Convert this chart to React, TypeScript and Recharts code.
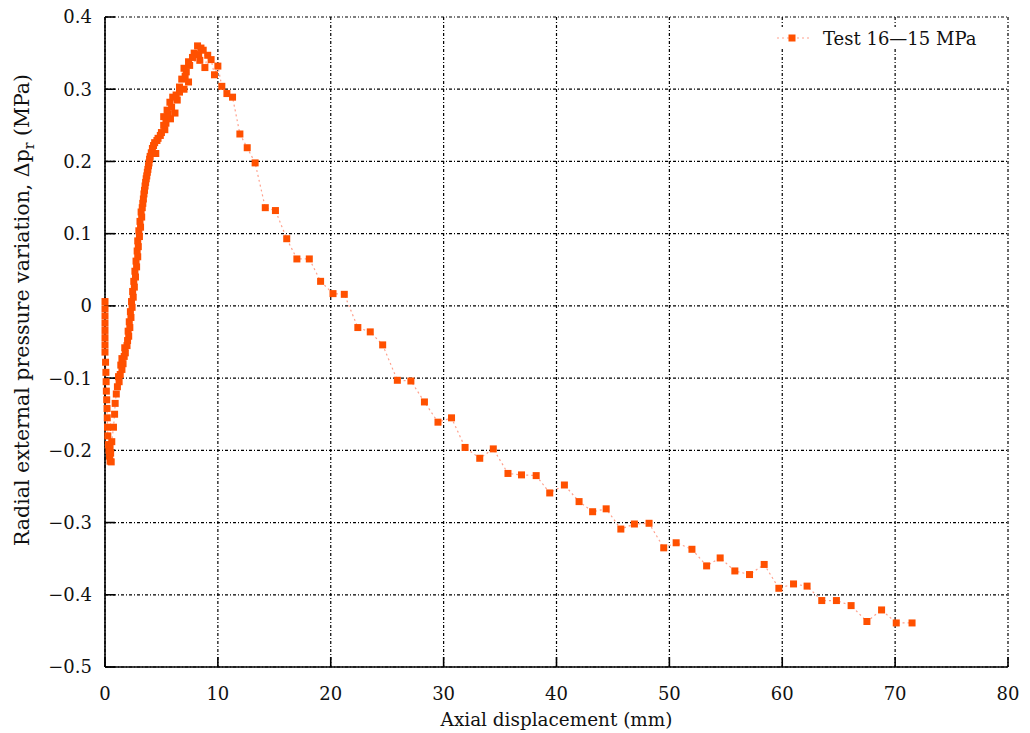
import React from "react";
import {
  CartesianGrid,
  Line,
  LineChart,
  XAxis,
  YAxis,
} from "recharts";

const displacement = [
  0, 0, 0, 0, 0, 0, 0, 0, 0.05, 0.08, 0.1, 0.12, 0.15, 0.18, 0.2, 0.22, 0.25,
  0.3, 0.35, 0.4, 0.45, 0.55, 0.5, 0.45, 0.6, 0.75, 0.85, 0.9, 1.0, 1.1, 1.25,
  1.2, 1.35, 1.5, 1.4, 1.6, 1.5, 1.7, 1.8, 1.75, 1.95, 2.0, 2.1, 2.05, 2.2,
  2.15, 2.3, 2.25, 2.4, 2.35, 2.5, 2.45, 2.6, 2.55, 2.7, 2.65, 2.8, 2.75, 2.9,
  2.85, 2.95, 2.9, 3.05, 3.0, 3.15, 3.1, 3.25, 3.2, 3.3, 3.35, 3.4, 3.45, 3.5,
  3.55, 3.6, 3.65, 3.7, 3.75, 3.8, 3.85, 3.9, 3.95, 4.0, 4.1, 4.5, 4.2, 4.3,
  4.4, 4.6, 4.7, 4.9, 5.0, 5.3, 5.2, 5.4, 5.8, 5.2, 5.6, 6.2, 5.5, 5.9, 5.75,
  6.4, 6.0, 6.3, 6.6, 7.0, 6.6, 7.4, 6.8, 7.1, 7.2, 7.0, 7.5, 7.4, 8.4, 7.75,
  7.9, 8.2, 8.5, 8.7, 8.3, 9.1, 8.85, 9.4, 9.7, 10.0, 10.35, 10.8, 11.3, 11.95,
  12.6, 13.3, 14.2, 15.1, 16.1, 17.0, 18.1, 19.1, 20.2, 21.2, 22.4, 23.5, 24.6,
  25.9, 27.1, 28.3, 29.5, 30.7, 31.9, 33.2, 34.4, 35.7, 36.9, 38.2, 39.4, 40.7,
  42.0, 43.2, 44.4, 45.7, 46.9, 48.2, 49.5, 50.6, 52.0, 53.3, 54.5, 55.8, 57.1,
  58.4, 59.7, 61.0, 62.2, 63.5, 64.8, 66.1, 67.5, 68.8, 70.1, 71.5,
];

const pressureVariation = [
  0.006, -0.004, -0.014, -0.024, -0.034, -0.044, -0.054, -0.064, -0.078,
  -0.092, -0.105, -0.118, -0.13, -0.142, -0.155, -0.168, -0.18, -0.192, -0.2,
  -0.208, -0.215, -0.216, -0.204, -0.195, -0.188, -0.168, -0.15, -0.135,
  -0.122, -0.112, -0.105, -0.098, -0.095, -0.088, -0.082, -0.08, -0.073,
  -0.07, -0.065, -0.058, -0.055, -0.048, -0.042, -0.035, -0.03, -0.022,
  -0.016, -0.008, -0.002, 0.006, 0.012, 0.02, 0.026, 0.034, 0.04, 0.048,
  0.054, 0.062, 0.068, 0.076, 0.082, 0.09, 0.096, 0.104, 0.109, 0.117, 0.123,
  0.13, 0.136, 0.142, 0.148, 0.155, 0.16, 0.166, 0.171, 0.176, 0.18, 0.185,
  0.189, 0.194, 0.198, 0.203, 0.207, 0.212, 0.211, 0.218, 0.222, 0.226,
  0.229, 0.232, 0.236, 0.24, 0.244, 0.25, 0.253, 0.259, 0.262, 0.265, 0.267,
  0.271, 0.275, 0.282, 0.285, 0.289, 0.292, 0.296, 0.3, 0.303, 0.31, 0.314,
  0.318, 0.324, 0.329, 0.333, 0.338, 0.34, 0.344, 0.35, 0.36, 0.357, 0.354,
  0.348, 0.347, 0.33, 0.341, 0.32, 0.332, 0.304, 0.294, 0.289, 0.238, 0.219,
  0.198, 0.136, 0.132, 0.093, 0.065, 0.065, 0.034, 0.017, 0.016, -0.03,
  -0.036, -0.054, -0.103, -0.104, -0.133, -0.161, -0.155, -0.196, -0.211,
  -0.198, -0.232, -0.234, -0.235, -0.259, -0.248, -0.271, -0.285, -0.281,
  -0.309, -0.302, -0.301, -0.335, -0.328, -0.337, -0.36, -0.349, -0.367,
  -0.372, -0.358, -0.391, -0.385, -0.388, -0.408, -0.408, -0.415, -0.437,
  -0.421, -0.439, -0.439,
];

const xTicks = [0, 10, 20, 30, 40, 50, 60, 70, 80];
const yTicks = [-0.5, -0.4, -0.3, -0.2, -0.1, 0, 0.1, 0.2, 0.3, 0.4];
const seriesName = "Test 16—15 MPa";

const FONT = "'DejaVu Serif', 'Liberation Serif', serif";
const MARKER = "#ff5000";
const LINK = "#ffa08c";

const data = displacement.map((x, i) => ({ x, y: pressureVariation[i] }));

const fmtY = (v: number) =>
  v === 0 ? "0" : v < 0 ? "\u2212" + Math.abs(v).toFixed(1) : v.toFixed(1);

const SquareDot = (props: any) => {
  const { cx, cy, index } = props;
  if (cx == null || cy == null) return <g key={`d${index}`} />;
  return (
    <rect key={`d${index}`} x={cx - 3.5} y={cy - 3.5} width={7} height={7} fill={MARKER} />
  );
};

const YTitle = () => (
  <text
    x={0}
    y={0}
    transform="translate(29, 310) rotate(-90)"
    textAnchor="middle"
    fontFamily={FONT}
    fontSize={20.5}
    fill="#111"
  >
    Radial external pressure variation, Δp
    <tspan fontSize={14} dy={5}>r</tspan>
    <tspan dy={-5}> (MPa)</tspan>
  </text>
);

const XTitle = (props: any) => {
  const vb = props.viewBox || { x: 105, width: 903 };
  return (
    <text
      x={vb.x + vb.width / 2}
      y={726}
      textAnchor="middle"
      fontFamily={FONT}
      fontSize={18.4}
      fill="#111"
    >
      Axial displacement (mm)
    </text>
  );
};

export default function App() {
  const tickStyle = { fontSize: 18, fill: "#111", fontFamily: FONT };
  const frame = { stroke: "#000", strokeWidth: 1.6 };
  return (
    <div style={{ position: "absolute", left: 0, top: 0, width: 1030, height: 733, background: "#fff" }}>
      <LineChart
        width={1030}
        height={733}
        data={data}
        margin={{ top: 17, right: 22, left: 0, bottom: 0 }}
      >
        <CartesianGrid
          xAxisId="b"
          yAxisId="l"
          stroke="#000"
          strokeDasharray="3 2 1 2"
          strokeWidth={1.2}
        />
        <XAxis
          xAxisId="b"
          dataKey="x"
          type="number"
          domain={[0, 80]}
          ticks={xTicks}
          height={66}
          tick={tickStyle}
          tickSize={-10}
          tickMargin={30}
          tickLine={frame}
          axisLine={frame}
          label={{ content: XTitle }}
        />
        <XAxis
          xAxisId="t"
          orientation="top"
          dataKey="x"
          type="number"
          domain={[0, 80]}
          ticks={xTicks}
          height={0}
          tick={false}
          tickSize={-10}
          tickLine={frame}
          axisLine={frame}
        />
        <YAxis
          yAxisId="l"
          type="number"
          domain={[-0.5, 0.4]}
          ticks={yTicks}
          width={105}
          tick={tickStyle}
          tickSize={-10}
          tickMargin={23}
          tickFormatter={fmtY}
          tickLine={frame}
          axisLine={frame}
          label={{ content: YTitle }}
        />
        <YAxis
          yAxisId="r"
          orientation="right"
          type="number"
          domain={[-0.5, 0.4]}
          ticks={yTicks}
          width={0}
          tick={false}
          tickSize={-10}
          tickLine={frame}
          axisLine={frame}
        />
        <Line
          xAxisId="b"
          yAxisId="l"
          dataKey="y"
          name={seriesName}
          stroke={LINK}
          strokeWidth={1.2}
          strokeDasharray="2 3"
          dot={SquareDot}
          activeDot={false}
          isAnimationActive={false}
        />
      </LineChart>
      <div
        style={{
          position: "absolute",
          left: 775,
          top: 27,
          display: "flex",
          alignItems: "center",
          fontFamily: FONT,
          fontSize: 18,
          color: "#111",
          background: "#fff",
          paddingRight: 4,
        }}
      >
        <svg width={36} height={22}>
          <line x1={2} y1={11} x2={34} y2={11} stroke={LINK} strokeDasharray="2 3" strokeWidth={1.2} />
          <rect x={13.5} y={7.5} width={7} height={7} fill={MARKER} />
        </svg>
        <span style={{ marginLeft: 12 }}>{seriesName}</span>
      </div>
    </div>
  );
}
